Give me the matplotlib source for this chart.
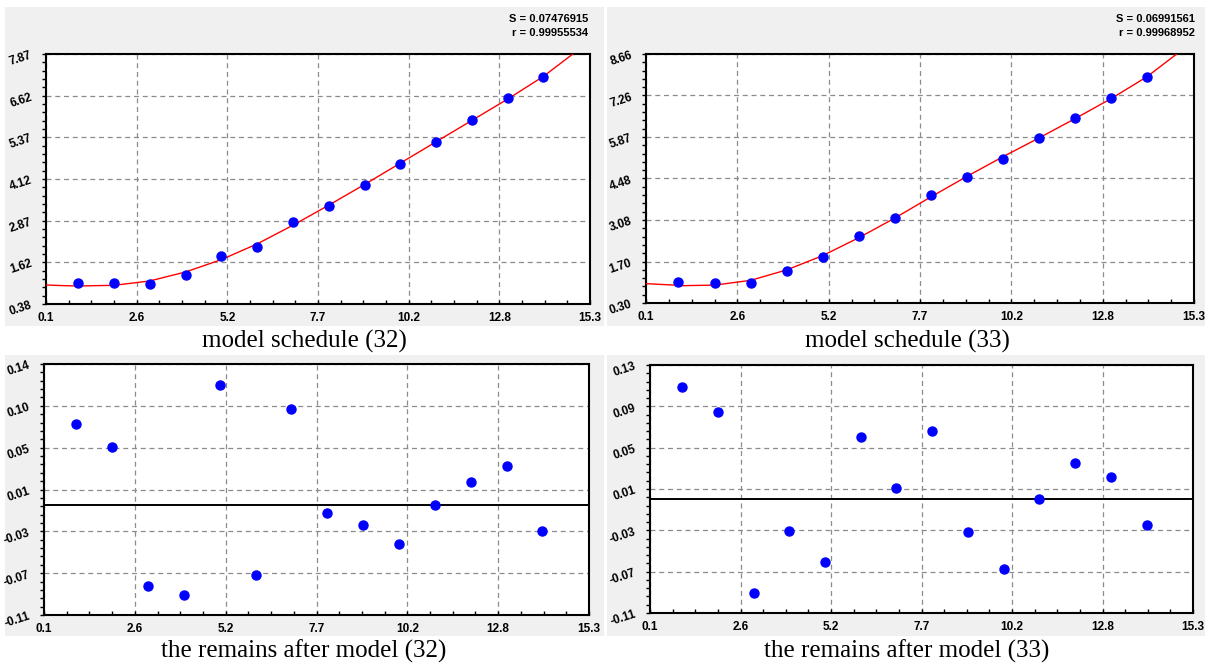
import matplotlib
import numpy as np

matplotlib.use("Agg")
import matplotlib.pyplot as plt  # noqa: E402
from matplotlib.patches import Rectangle  # noqa: E402
from matplotlib.ticker import AutoMinorLocator, FixedLocator  # noqa: E402

x_obs = [1, 2, 3, 4, 5, 6, 7, 8, 9, 10, 11, 12, 13, 14]

y_obs_32 = [1.00, 1.00, 0.99, 1.25, 1.83, 2.10, 2.84, 3.33, 3.94, 4.57, 5.24, 5.90, 6.56, 7.19]
fit_x_32 = [0.1, 0.6, 1.0, 2.0, 3.0, 4.0, 5.0, 6.0, 7.0, 8.0, 9.0, 10.0, 11.0, 12.0, 13.0, 14.0, 14.82]
fit_y_32 = [0.95, 0.93, 0.92, 0.94, 1.07, 1.34, 1.71, 2.18, 2.74, 3.34, 3.96, 4.60, 5.24, 5.88, 6.52, 7.20, 7.87]
resid_32 = [0.080, 0.057, -0.081, -0.090, 0.119, -0.070, 0.095, -0.008, -0.020, -0.039, 0.000, 0.022, 0.038, -0.026]

y_obs_33 = [0.99, 0.98, 0.98, 1.38, 1.83, 2.55, 3.16, 3.93, 4.52, 5.14, 5.84, 6.52, 7.18, 7.89]
fit_x_33 = [0.1, 0.9, 1.0, 2.0, 3.0, 4.0, 5.0, 6.0, 7.0, 8.0, 9.0, 10.0, 11.0, 12.0, 13.0, 14.0, 14.82]
fit_y_33 = [0.95, 0.90, 0.88, 0.90, 1.06, 1.41, 1.89, 2.49, 3.15, 3.86, 4.55, 5.21, 5.84, 6.49, 7.16, 7.90, 8.66]
resid_33 = [0.109, 0.085, -0.091, -0.031, -0.061, 0.060, 0.011, 0.066, -0.032, -0.067, 0.000, 0.035, 0.022, -0.025]

x_range = (0.1, 15.3)
x_labels = ["0.1", "2.6", "5.2", "7.7", "10.2", "12.8", "15.3"]

y_range_32 = (0.38, 7.87)
y_labels_32 = ["0.38", "1.62", "2.87", "4.12", "5.37", "6.62", "7.87"]
y_range_33 = (0.30, 8.66)
y_labels_33 = ["0.30", "1.70", "3.08", "4.48", "5.87", "7.26", "8.66"]
r_range_32 = (-0.11, 0.14)
r_labels_32 = ["-0.11", "-0.07", "-0.03", "0.01", "0.05", "0.10", "0.14"]
r_range_33 = (-0.11, 0.13)
r_labels_33 = ["-0.11", "-0.07", "-0.03", "0.01", "0.05", "0.09", "0.13"]

stats_32 = ["S = 0.07476915", "r = 0.99955534"]
stats_33 = ["S = 0.06991561", "r = 0.99968952"]

W, H = 1207, 666
PANEL_BG = "#f0f0f0"
TICK_FONT = {"family": "Liberation Sans", "size": 8.5, "weight": "bold"}
STATS_FONT = {"family": "Liberation Sans", "size": 8, "weight": "bold"}
TITLE_FONT = {"family": "Liberation Serif", "size": 18}


def px_axes(fig, x0, y0, x1, y1):
    return fig.add_axes([x0 / W, 1 - y1 / H, (x1 - x0) / W, (y1 - y0) / H])


def style_axes(ax, yr, ylabels):
    ticks_x = np.linspace(*x_range, len(x_labels))
    ticks_y = np.linspace(*yr, len(ylabels))
    ax.set_xlim(*x_range)
    ax.set_ylim(*yr)
    ax.xaxis.set_major_locator(FixedLocator(ticks_x))
    ax.yaxis.set_major_locator(FixedLocator(ticks_y))
    ax.set_xticklabels(x_labels, fontdict=TICK_FONT)
    ax.set_yticklabels(ylabels, fontdict=TICK_FONT, rotation=18)
    ax.xaxis.set_minor_locator(AutoMinorLocator(4))
    ax.yaxis.set_minor_locator(AutoMinorLocator(5))
    ax.tick_params(axis="x", which="both", direction="in", length=3, width=1, pad=6)
    ax.tick_params(axis="y", which="both", direction="out", length=3, width=1, pad=6)
    ax.grid(True, which="major", color="#8c8c8c", linestyle=(0, (4, 3)), linewidth=0.9)
    ax.set_axisbelow(True)
    for sp in ax.spines.values():
        sp.set_color("black")
        sp.set_linewidth(1.5)


fig = plt.figure(figsize=(W / 100, H / 100), dpi=100)

for x0, y0, x1, y1 in [(5, 7, 604, 326), (607, 7, 1205, 326), (5, 355, 604, 636), (607, 355, 1205, 636)]:
    fig.patches.append(
        Rectangle((x0 / W, 1 - y1 / H), (x1 - x0) / W, (y1 - y0) / H,
                  transform=fig.transFigure, facecolor=PANEL_BG, edgecolor="none", zorder=-1)
    )

paineis = [
    ((46, 54, 590, 304), (44, 364, 589, 615), 304, 588,
     y_obs_32, fit_x_32, fit_y_32, resid_32, y_range_32, y_labels_32, r_range_32, r_labels_32, stats_32, "32"),
    ((646, 54, 1194, 303), (650, 365, 1193, 613), 907, 1195,
     y_obs_33, fit_x_33, fit_y_33, resid_33, y_range_33, y_labels_33, r_range_33, r_labels_33, stats_33, "33"),
]

for (top_box, bot_box, cx, sx, y_obs, fx, fy, resid, yr, ylab, rr, rlab, stats, num) in paineis:
    ax = px_axes(fig, *top_box)
    style_axes(ax, yr, ylab)
    ax.plot(fx, fy, color="red", linewidth=1.0, zorder=3)
    ax.plot(x_obs, y_obs, "o", color="#0000ff", markersize=6.5, zorder=4)

    axr = px_axes(fig, *bot_box)
    style_axes(axr, rr, rlab)
    axr.axhline(0, color="black", linewidth=1.4, zorder=3)
    axr.plot(x_obs, resid, "o", color="#0000ff", markersize=6.5, zorder=4)

    fig.text(cx / W, 1 - 341 / H, f"model schedule ({num})", ha="center", va="center", **TITLE_FONT)
    fig.text(cx / W, 1 - 651 / H, f"the remains after model ({num})", ha="center", va="center", **TITLE_FONT)
    fig.text(sx / W, 1 - 19 / H, stats[0], ha="right", va="center", **STATS_FONT)
    fig.text(sx / W, 1 - 33 / H, stats[1], ha="right", va="center", **STATS_FONT)

fig.savefig("out.png", dpi=100)
plt.close(fig)
